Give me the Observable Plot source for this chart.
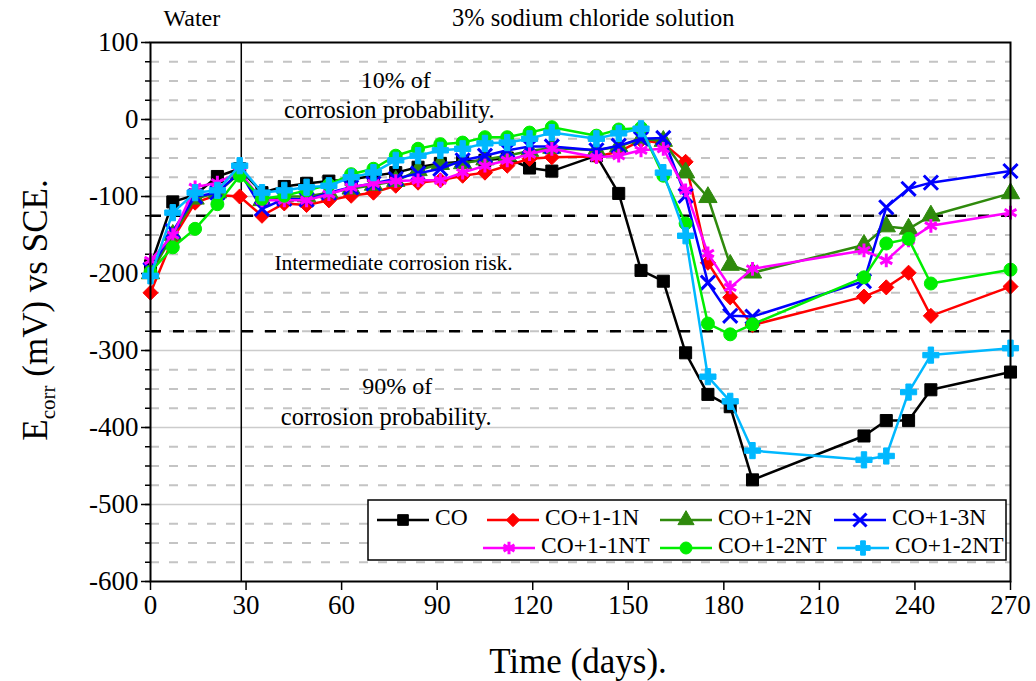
<!DOCTYPE html>
<html><head><meta charset="utf-8">
<script src="https://cdn.jsdelivr.net/npm/d3@7"></script>
<script src="https://cdn.jsdelivr.net/npm/@observablehq/plot@0.6"></script>
<style>body{margin:0;background:#fff} svg{display:block}</style>
</head><body><div id="chart"></div>
<script>
const days = [0,7,14,21,28,35,42,49,56,63,70,77,84,91,98,105,112,119,126,140,147,154,161,168,175,182,189,224,231,238,245,270];
const seriesNames = ["CO","CO+1-1N","CO+1-2N","CO+1-3N","CO+1-1NT","CO+1-2NT","CO+1-2NT"];
const seriesColors = ["#000000","#ff0000","#2f8a0c","#0000ff","#ff00ff","#00ee00","#00b8ff"];
const seriesSymbols = ["square","diamond2","triangle","times","asterisk","circle","cross"];
const CO   = [-190,-107,-98,-74,-64,-95,-87,-83,-80,-78,-73,-69,-62,-57,-55,-53,-50,-63,-67,-47,-96,-196,-210,-303,-357,-373,-468,-411,-391,-391,-351,-328];
const N11  = [-225,-155,-108,-98,-100,-125,-109,-111,-105,-99,-95,-86,-82,-79,-73,-69,-60,-51,-49,-48,-42,-27,-31,-55,-186,-231,-267,-230,-218,-199,-255,-217];
const N12  = [-200,-150,-103,-95,-70,-105,-100,-100,-95,-90,-85,-80,-66,-58,-57,-52,-47,-41,-37,-40,-35,-25,-28,-69,-101,-189,-199,-163,-139,-142,-125,-96];
const N13  = [-195,-145,-100,-95,-68,-116,-103,-104,-95,-88,-83,-77,-70,-64,-53,-47,-40,-35,-35,-40,-34,-25,-24,-99,-212,-255,-256,-210,-114,-90,-82,-67];
const NT11 = [-183,-150,-88,-82,-68,-105,-105,-105,-97,-88,-83,-80,-79,-79,-69,-60,-53,-45,-38,-49,-47,-40,-38,-92,-174,-218,-194,-170,-183,-157,-138,-121];
const NT12a= [-198,-166,-142,-110,-73,-103,-99,-92,-85,-71,-64,-47,-38,-32,-30,-23,-23,-17,-10,-21,-13,-11,-73,-135,-265,-279,-266,-205,-161,-155,-213,-195];
const NT12b= [-203,-121,-95,-92,-60,-95,-92,-88,-86,-75,-69,-53,-47,-40,-38,-31,-30,-25,-17,-25,-18,-12,-69,-151,-334,-366,-430,-442,-437,-354,-306,-297];
const seriesValues = [CO,N11,N12,N13,NT11,NT12a,NT12b];
const xTicks = d3.range(0, 271, 30);
const yTicks = d3.range(-600, 101, 100);
const yMinor = d3.range(-600, 101, 25);
const gridMajor = d3.range(-500, 100, 100);
const gridMinor = yMinor.filter(v => v % 100 !== 0);
const riskLevels = [-125, -275];
const waterEnd = 28.5;
const annotations = [
  {x: 13, y: 131, text: "Water", size: 24},
  {x: 139, y: 131, text: "3% sodium chloride solution", size: 24.5},
  {x: 77, y: 51, text: "10% of", size: 24},
  {x: 75, y: 12, text: "corrosion probability.", size: 24.5},
  {x: 76.3, y: -186, text: "Intermediate corrosion risk.", size: 21.5},
  {x: 77.5, y: -347, text: "90% of", size: 24},
  {x: 74, y: -387, text: "corrosion probability.", size: 24.5}
];
const font = "Liberation Serif, Times New Roman, serif";

const strokeSymbols = new Set(["times","asterisk"]);
const seriesMarks = seriesValues.flatMap((vals, i) => {
  const data = days.map((d, j) => ({day: d, v: vals[j]}));
  const sym = seriesSymbols[i];
  const col = seriesColors[i];
  const dotOpts = strokeSymbols.has(sym)
    ? {x: "day", y: "v", symbol: sym, r: 6.5, stroke: col, strokeWidth: 3, fill: "none"}
    : {x: "day", y: "v", symbol: sym, r: sym === "circle" ? 6.5 : 6.8, fill: col, stroke: col, strokeWidth: 1};
  return [
    Plot.line(data, {x: "day", y: "v", stroke: col, strokeWidth: 2.5}),
    Plot.dot(data, dotOpts)
  ];
});

const plot = Plot.plot({
  width: 1036, height: 681,
  marginLeft: 150, marginRight: 26, marginTop: 42, marginBottom: 100,
  style: {fontFamily: font, background: "#fff", color: "#000"},
  x: {domain: [0, 270]},
  y: {domain: [-600, 100]},
  marks: [
    Plot.ruleY(gridMinor, {stroke: "#c4c4c4", strokeWidth: 2, strokeDasharray: "9,10"}),
    Plot.ruleY(gridMajor, {stroke: "#cccccc", strokeWidth: 1.5}),
    Plot.ruleY(riskLevels, {stroke: "#000", strokeWidth: 2.5, strokeDasharray: "11,12"}),
    Plot.ruleX([waterEnd], {stroke: "#000", strokeWidth: 1.5}),
    Plot.axisY(yMinor, {tickSize: 5, tickFormat: () => "", strokeWidth: 1.5}),
    Plot.axisY(yTicks, {tickSize: 9, tickPadding: 3, fontSize: 27, tickFormat: d => `${d}`, label: null, strokeWidth: 1.5}),
    Plot.axisX(xTicks, {tickSize: 9, tickPadding: 4, fontSize: 27, tickFormat: d => `${d}`, label: null, strokeWidth: 1.5}),
    Plot.text(annotations, {x: "x", y: "y", text: "text", fontSize: "size", fill: "#000", textAnchor: "middle", lineAnchor: "middle"}),
    ...seriesMarks,
    Plot.frame({stroke: "#000", strokeWidth: 2})
  ]
});
document.getElementById("chart").appendChild(plot);

const svg = d3.select(plot);
svg.append("text").attr("x", 578).attr("y", 673).attr("text-anchor", "middle")
  .style("font-size", "35px").attr("fill", "#000")
  .text("Time (days).");
const yl = svg.append("text").attr("transform", "translate(47,310) rotate(-90)")
  .attr("text-anchor", "middle")
  .style("font-size", "35px").attr("fill", "#000");
yl.append("tspan").text("E");
yl.append("tspan").style("font-size", "21px").attr("dy", 8).text("corr");
yl.append("tspan").attr("dy", -8).text(" (mV) vs SCE.");

// legend
const symMap = {square: d3.symbolSquare, diamond2: d3.symbolDiamond2, triangle: d3.symbolTriangle,
  times: d3.symbolTimes, asterisk: d3.symbolAsterisk, circle: d3.symbolCircle, cross: d3.symbolCross};
const lg = svg.append("g");
lg.append("rect").attr("x", 368).attr("y", 500).attr("width", 638).attr("height", 60)
  .attr("fill", "#fff").attr("stroke", "#000").attr("stroke-width", 1.5);
const legendPos = [[377,520],[487,520],[660,520],[834,520],[483,548],[660,548],[837,548]];
seriesNames.forEach((name, i) => {
  const [lx, ly] = legendPos[i];
  const col = seriesColors[i], sym = seriesSymbols[i];
  lg.append("line").attr("x1", lx).attr("x2", lx + 52).attr("y1", ly).attr("y2", ly)
    .attr("stroke", col).attr("stroke-width", 2.5);
  const p = lg.append("path").attr("transform", `translate(${lx + 26},${ly})`)
    .attr("d", d3.symbol(symMap[sym], Math.PI * 36)());
  if (strokeSymbols.has(sym)) p.attr("fill", "none").attr("stroke", col).attr("stroke-width", 3);
  else p.attr("fill", col).attr("stroke", col);
  lg.append("text").attr("x", lx + 58).attr("y", ly).attr("dominant-baseline", "middle")
    .style("text-anchor", "start").style("font-size", "23.5px").attr("fill", "#000").text(name);
});
svg.selectAll("text").style("font-family", font);
</script></body></html>
